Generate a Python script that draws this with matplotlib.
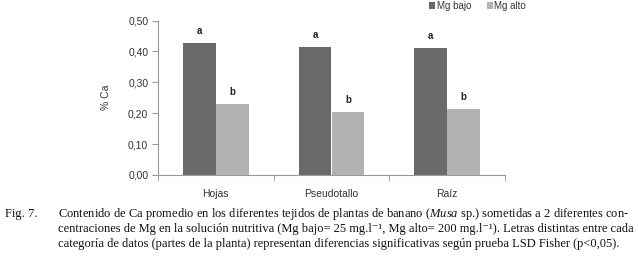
import matplotlib.pyplot as plt
import numpy as np

plt.rcParams['font.family'] = ['Liberation Sans', 'DejaVu Sans']
plt.rcParams['mathtext.fontset'] = 'custom'
plt.rcParams['mathtext.rm'] = 'Liberation Serif'
plt.rcParams['mathtext.it'] = 'Liberation Serif:italic'

categorias = ["Hojas", "Pseudotallo", "Raíz"]
mg_bajo = [0.426, 0.413, 0.410]
mg_alto = [0.229, 0.203, 0.213]
letras_bajo = ["a", "a", "a"]
letras_alto = ["b", "b", "b"]
yticks = [0.0, 0.1, 0.2, 0.3, 0.4, 0.5]
ytick_labels = ["0,00", "0,10", "0,20", "0,30", "0,40", "0,50"]

fig = plt.figure(figsize=(6.38, 2.58), dpi=100)
ax = fig.add_axes([158 / 638, 1 - 175 / 258, (505 - 158) / 638, (175 - 20.5) / 258])

x = np.arange(len(categorias))
w = 0.285
b1 = ax.bar(x - w / 2, mg_bajo, w, color='#6a6a6a', label='Mg bajo')
b2 = ax.bar(x + w / 2, mg_alto, w, color='#b2b2b2', label='Mg alto')

for rect, l in zip(b1, letras_bajo):
    ax.annotate(l, (rect.get_x() + rect.get_width() / 2, rect.get_height()), xytext=(0, 5),
                textcoords='offset points', ha='center', va='bottom', fontsize=7, fontweight='bold', color='#222222')
for rect, l in zip(b2, letras_alto):
    ax.annotate(l, (rect.get_x() + rect.get_width() / 2, rect.get_height()), xytext=(0, 5),
                textcoords='offset points', ha='center', va='bottom', fontsize=7, fontweight='bold', color='#222222')

ax.set_xlim(-0.5, 2.5)
ax.set_ylim(0, 0.5)
ax.set_yticks(yticks)
ax.set_yticklabels(ytick_labels)
ax.set_xticks(x)
ax.set_xticklabels(categorias)
ax.set_xticks([-0.5, 0.5, 1.5, 2.5], minor=True)
ax.tick_params(axis='x', which='major', length=0, pad=10, labelsize=7.5, labelcolor='#333333')
ax.tick_params(axis='x', which='minor', length=4, color='#999999')
ax.tick_params(axis='y', length=4, color='#999999', labelsize=7.5, labelcolor='#333333', pad=3)
for s in ['top', 'right']:
    ax.spines[s].set_visible(False)
for s in ['left', 'bottom']:
    ax.spines[s].set_color('#999999')
    ax.spines[s].set_linewidth(0.8)
ax.set_ylabel('% Ca', fontsize=7.5, color='#333333', labelpad=12)

ax.legend(loc='upper left', bbox_to_anchor=(428 / 638, 1.0), bbox_transform=fig.transFigure, ncol=2,
          frameon=False, fontsize=7, handlelength=0.6, handleheight=0.6, handletextpad=0.2,
          columnspacing=1.6, borderaxespad=0, borderpad=0.1, labelcolor='#333333')

cap = dict(fontsize=9.0, color='#111111', va='baseline')
fig.text(5 / 638, 1 - 217 / 258, "Fig. 7.", family='Liberation Serif', **cap)
fig.text(58 / 638, 1 - 217 / 258,
         r"Contenido de Ca promedio en los diferentes tejidos de plantas de banano ($\mathit{Musa}$ sp.) sometidas a 2 diferentes con-",
         family='Liberation Serif', **cap)
fig.text(58 / 638, 1 - 232 / 258,
         "centraciones de Mg en la solución nutritiva (Mg bajo= 25 mg.l⁻¹, Mg alto= 200 mg.l⁻¹). Letras distintas entre cada",
         family=['Liberation Serif', 'DejaVu Serif'], **cap)
fig.text(58 / 638, 1 - 246.5 / 258,
         "categoría de datos (partes de la planta) representan diferencias significativas según prueba LSD Fisher (p<0,05).",
         family='Liberation Serif', **cap)

fig.savefig('out.png', dpi=100)
